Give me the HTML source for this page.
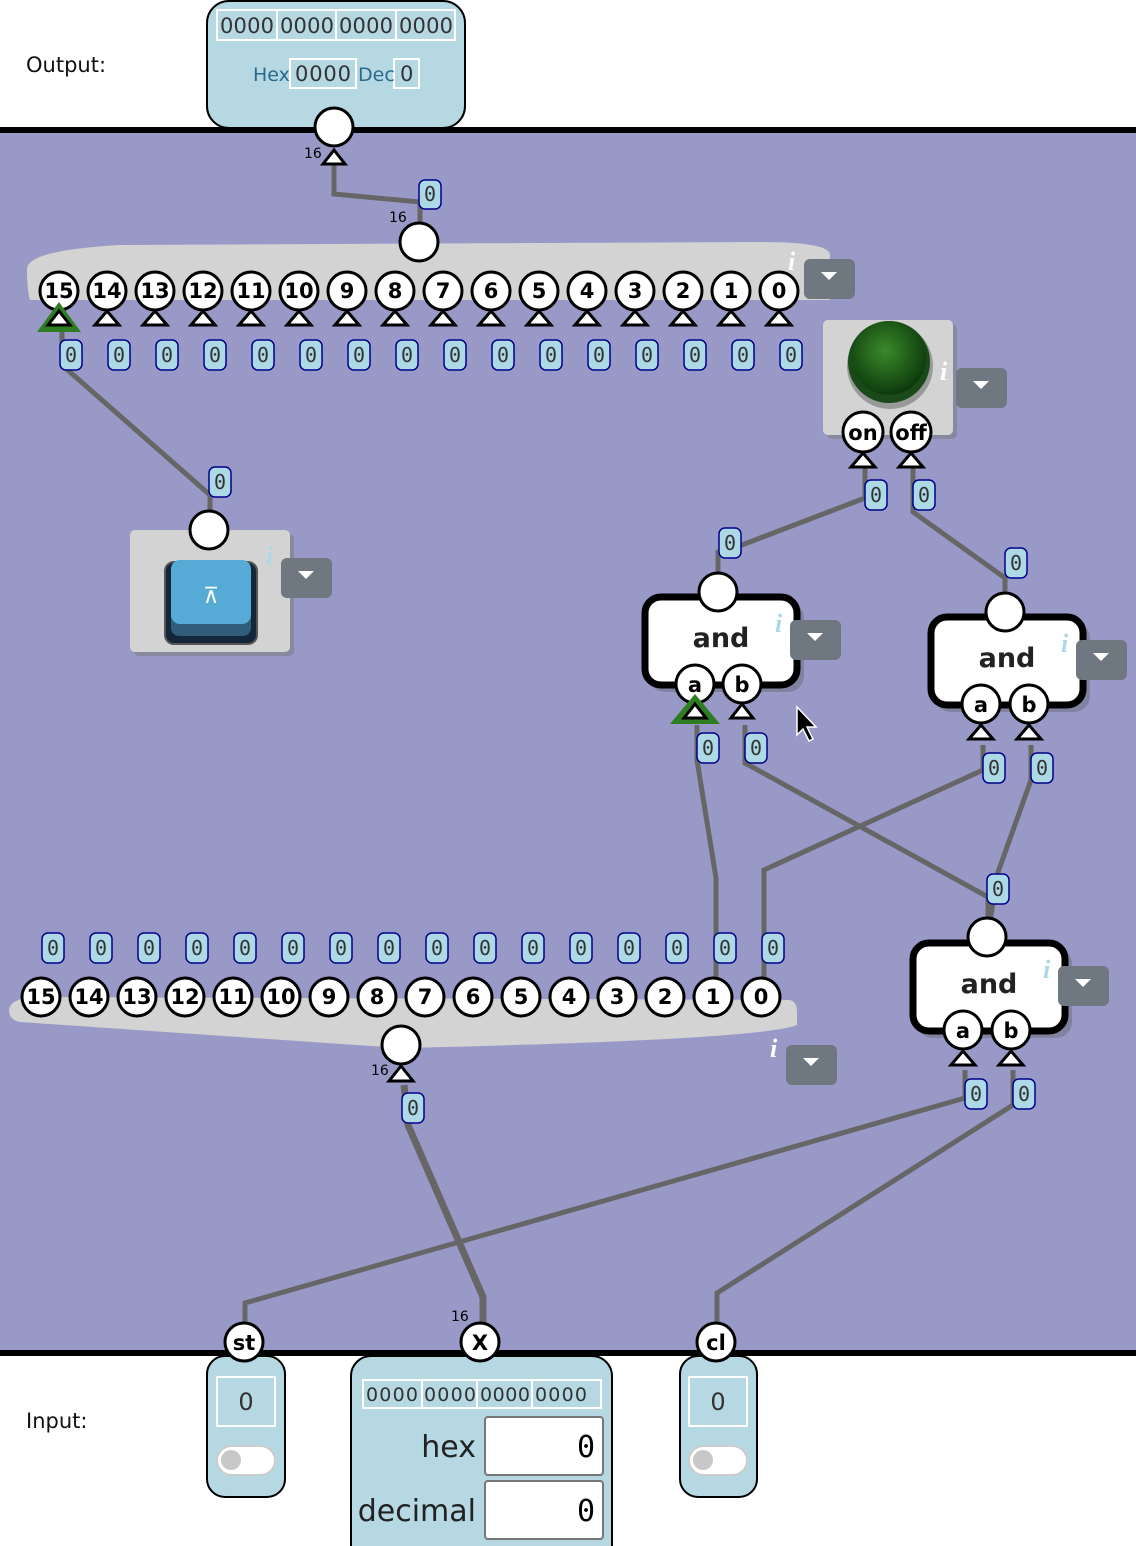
<!DOCTYPE html>
<html><head><meta charset="utf-8"><style>
html,body{margin:0;padding:0;background:#fff;}
svg{display:block}
.lb rect{fill:#add8e6;stroke:#00008b;stroke-width:1.5}
.lb text{font-family:"DejaVu Sans Mono","Liberation Mono",monospace;font-size:20px;fill:#333;text-anchor:middle}
.pin circle{fill:#fff;stroke:#000;stroke-width:3}
.pin text{font-family:"DejaVu Sans","Liberation Sans",sans-serif;font-weight:bold;font-size:21px;text-anchor:middle;fill:#000}
.tri{fill:#fff;stroke:#000;stroke-width:3}
.w{stroke:#666;stroke-width:5;fill:none}
.dd{fill:#6f7780}
.it{font-family:"Liberation Serif",serif;font-style:italic;font-weight:bold;font-size:26px;fill:#add8e6}
.num{font-family:"DejaVu Sans","Liberation Sans",sans-serif;font-size:14px;fill:#000}
</style></head><body>
<svg width="1136" height="1546" viewBox="0 0 1136 1546" xmlns="http://www.w3.org/2000/svg">
<defs>
<radialGradient id="lamp" cx="45%" cy="40%" r="60%"><stop offset="0" stop-color="#3a8a2a"/><stop offset="1" stop-color="#0d3a0d"/></radialGradient>
</defs>
<rect x="-10" y="130" width="1160" height="1223" fill="#9999c8" stroke="#000" stroke-width="6"/>
<text x="26" y="72" font-family="DejaVu Sans,Liberation Sans,sans-serif" font-size="21" fill="#111">Output:</text>
<text x="26" y="1428" font-family="DejaVu Sans,Liberation Sans,sans-serif" font-size="21" fill="#111">Input:</text>

<!-- output box -->
<rect x="207" y="1" width="258" height="127" rx="22" fill="#b5d8e3" stroke="#000" stroke-width="2"/>
<g fill="none" stroke="#fff" stroke-width="2">
<rect x="217" y="10" width="238" height="30"/><line x1="277" y1="10" x2="277" y2="40"/><line x1="336" y1="10" x2="336" y2="40"/><line x1="396" y1="10" x2="396" y2="40"/>
<rect x="290" y="59" width="66" height="29"/><rect x="394" y="59" width="25" height="29"/>
</g>
<g font-family="DejaVu Sans,Liberation Sans,sans-serif" font-size="21" fill="#333">
<text x="220" y="33" textLength="54" lengthAdjust="spacing">0000</text><text x="280" y="33" textLength="54" lengthAdjust="spacing">0000</text><text x="339" y="33" textLength="54" lengthAdjust="spacing">0000</text><text x="399" y="33" textLength="54" lengthAdjust="spacing">0000</text>
<text x="295" y="81" textLength="56" lengthAdjust="spacing">0000</text><text x="400" y="81">0</text></g>
<text x="253" y="81" font-family="DejaVu Sans,Liberation Sans,sans-serif" font-size="19" fill="#2a6a8a">Hex</text>
<text x="358" y="81" font-family="DejaVu Sans,Liberation Sans,sans-serif" font-size="19" fill="#2a6a8a">Dec</text>

<!-- wires -->
<polyline class="w" points="334,165 334,194 420,202 420,228"/>
<polyline class="w" points="62,330 62,365 210,495 210,515"/>
<polyline class="w" points="865,465 865,498 742,545 718,552 718,578"/>
<polyline class="w" points="913,465 913,512 1005,578 1005,598"/>
<polyline class="w" points="697,725 697,760 716,878 716,980"/>
<polyline class="w" points="745,725 745,763 988,897 988,922"/>
<polyline class="w" points="983,745 983,770 764,870 764,980"/>
<polyline class="w" points="1031,745 1031,780 997,875 990,922"/>
<polyline class="w" points="965,1070 965,1098 245,1303 245,1325"/>
<polyline class="w" points="1013,1070 1013,1105 717,1293 717,1325"/>
<polyline class="w" style="stroke-width:7" points="404,1085 408,1125 483,1297 483,1325"/>

<g class="pin"><circle cx="334" cy="127" r="19"/></g>
<polygon class="tri" points="323,164 334,150 345,164"/>
<text class="num" x="304" y="158">16</text>
<g class="lb"><rect x="419" y="180" width="22" height="29" rx="6"/><text x="430" y="201">0</text></g>

<!-- top bus -->
<path d="M27,268 Q30,250 120,245 L760,242 Q830,242 830,255 L830,300 L30,300 Q27,290 27,268 Z" fill="#d3d3d3"/>
<g class="pin"><circle cx="419" cy="242" r="19"/></g>
<text class="num" x="389" y="222">16</text>
<text class="it" x="788" y="270" style="fill:#fff">i</text>
<rect class="dd" x="804" y="259" width="51" height="40" rx="6"/><polygon points="821,272 837,272 829,280" fill="#fff"/>
<g class="pin">
<circle cx="59" cy="291" r="19"/><text x="59" y="298">15</text>
<circle cx="107" cy="291" r="19"/><text x="107" y="298">14</text>
<circle cx="155" cy="291" r="19"/><text x="155" y="298">13</text>
<circle cx="203" cy="291" r="19"/><text x="203" y="298">12</text>
<circle cx="251" cy="291" r="19"/><text x="251" y="298">11</text>
<circle cx="299" cy="291" r="19"/><text x="299" y="298">10</text>
<circle cx="347" cy="291" r="19"/><text x="347" y="298">9</text>
<circle cx="395" cy="291" r="19"/><text x="395" y="298">8</text>
<circle cx="443" cy="291" r="19"/><text x="443" y="298">7</text>
<circle cx="491" cy="291" r="19"/><text x="491" y="298">6</text>
<circle cx="539" cy="291" r="19"/><text x="539" y="298">5</text>
<circle cx="587" cy="291" r="19"/><text x="587" y="298">4</text>
<circle cx="635" cy="291" r="19"/><text x="635" y="298">3</text>
<circle cx="683" cy="291" r="19"/><text x="683" y="298">2</text>
<circle cx="731" cy="291" r="19"/><text x="731" y="298">1</text>
<circle cx="779" cy="291" r="19"/><text x="779" y="298">0</text>
</g>
<polygon points="37,332 59,302 81,332" fill="#2e7d22"/>
<g class="tri">
<polygon points="48,325 59,311 70,325"/>
<polygon points="95,325 107,311 119,325"/><polygon points="143,325 155,311 167,325"/><polygon points="191,325 203,311 215,325"/><polygon points="239,325 251,311 263,325"/><polygon points="287,325 299,311 311,325"/><polygon points="335,325 347,311 359,325"/><polygon points="383,325 395,311 407,325"/><polygon points="431,325 443,311 455,325"/><polygon points="479,325 491,311 503,325"/><polygon points="527,325 539,311 551,325"/><polygon points="575,325 587,311 599,325"/><polygon points="623,325 635,311 647,325"/><polygon points="671,325 683,311 695,325"/><polygon points="719,325 731,311 743,325"/><polygon points="767,325 779,311 791,325"/>
</g>
<g class="lb">
<rect x="60" y="340" width="22" height="30" rx="6"/><text x="71" y="362">0</text>
<rect x="108" y="340" width="22" height="30" rx="6"/><text x="119" y="362">0</text>
<rect x="156" y="340" width="22" height="30" rx="6"/><text x="167" y="362">0</text>
<rect x="204" y="340" width="22" height="30" rx="6"/><text x="215" y="362">0</text>
<rect x="252" y="340" width="22" height="30" rx="6"/><text x="263" y="362">0</text>
<rect x="300" y="340" width="22" height="30" rx="6"/><text x="311" y="362">0</text>
<rect x="348" y="340" width="22" height="30" rx="6"/><text x="359" y="362">0</text>
<rect x="396" y="340" width="22" height="30" rx="6"/><text x="407" y="362">0</text>
<rect x="444" y="340" width="22" height="30" rx="6"/><text x="455" y="362">0</text>
<rect x="492" y="340" width="22" height="30" rx="6"/><text x="503" y="362">0</text>
<rect x="540" y="340" width="22" height="30" rx="6"/><text x="551" y="362">0</text>
<rect x="588" y="340" width="22" height="30" rx="6"/><text x="599" y="362">0</text>
<rect x="636" y="340" width="22" height="30" rx="6"/><text x="647" y="362">0</text>
<rect x="684" y="340" width="22" height="30" rx="6"/><text x="695" y="362">0</text>
<rect x="732" y="340" width="22" height="30" rx="6"/><text x="743" y="362">0</text>
<rect x="780" y="340" width="22" height="30" rx="6"/><text x="791" y="362">0</text>
<rect x="209" y="467" width="22" height="30" rx="6"/><text x="220" y="489">0</text>
</g>

<!-- button -->
<rect x="134" y="534" width="160" height="122" rx="5" fill="#777" opacity="0.5"/>
<rect x="130" y="530" width="160" height="122" rx="5" fill="#d3d3d3"/>
<rect x="165" y="562" width="92" height="82" rx="9" fill="#14263a" stroke="#555" stroke-width="2"/>
<rect x="171" y="562" width="80" height="74" rx="8" fill="#2f5d7a"/>
<rect x="171" y="560" width="80" height="64" rx="9" fill="#56aad6"/>
<text x="211" y="603" font-family="DejaVu Sans,sans-serif" font-size="22" fill="#fff" text-anchor="middle">⊼</text>
<text class="it" x="266" y="565">i</text>
<rect class="dd" x="281" y="558" width="51" height="40" rx="6"/><polygon points="298,571 314,571 306,579" fill="#fff"/>
<g class="pin"><circle cx="209" cy="530" r="19"/></g>

<!-- lamp -->
<rect x="827" y="324" width="130" height="115" rx="5" fill="#777" opacity="0.5"/>
<rect x="823" y="320" width="130" height="115" rx="5" fill="#d3d3d3"/>
<circle cx="890" cy="366" r="43" fill="#999"/>
<circle cx="889" cy="362" r="41" fill="#1a4a1a"/>
<circle cx="889" cy="358" r="37" fill="url(#lamp)"/>
<text class="it" x="940" y="380" style="fill:#fff">i</text>
<rect class="dd" x="956" y="368" width="51" height="40" rx="6"/><polygon points="973,381 989,381 981,389" fill="#fff"/>
<g class="pin"><circle cx="863" cy="432" r="20"/><text x="863" y="440">on</text><circle cx="911" cy="432" r="20"/><text x="911" y="440">off</text></g>
<g class="tri"><polygon points="851,467 863,453 875,467"/><polygon points="899,467 911,453 923,467"/></g>
<g class="lb"><rect x="865" y="480" width="22" height="30" rx="6"/><text x="876" y="502">0</text>
<rect x="913" y="480" width="22" height="30" rx="6"/><text x="924" y="502">0</text>
<rect x="719" y="528" width="22" height="30" rx="6"/><text x="730" y="550">0</text>
<rect x="1005" y="548" width="22" height="30" rx="6"/><text x="1016" y="570">0</text></g>

<!-- and gates -->
<g font-family="DejaVu Sans,Liberation Sans,sans-serif">
<rect x="649" y="602" width="155" height="90" rx="16" fill="#555" opacity="0.35"/>
<rect x="645" y="597" width="152" height="88" rx="16" fill="#fff" stroke="#000" stroke-width="7"/>
<text x="721" y="647" font-size="27" font-weight="bold" fill="#222" text-anchor="middle">and</text>
<text class="it" x="775" y="632">i</text>
<rect class="dd" x="790" y="620" width="51" height="40" rx="6"/><polygon points="807,633 823,633 815,641" fill="#fff"/>
<g class="pin"><circle cx="718" cy="592" r="19"/><circle cx="695" cy="684" r="19"/><text x="695" y="692">a</text><circle cx="742" cy="684" r="19"/><text x="742" y="692">b</text></g>
<polygon points="670,724 695,694 720,724" fill="#2e7d22"/>
<g class="tri"><polygon points="684,718 695,704 706,718"/><polygon points="731,718 742,704 753,718"/></g>

<rect x="935" y="622" width="155" height="90" rx="16" fill="#555" opacity="0.35"/>
<rect x="931" y="617" width="152" height="88" rx="16" fill="#fff" stroke="#000" stroke-width="7"/>
<text x="1007" y="667" font-size="27" font-weight="bold" fill="#222" text-anchor="middle">and</text>
<text class="it" x="1061" y="652">i</text>
<rect class="dd" x="1076" y="640" width="51" height="40" rx="6"/><polygon points="1093,653 1109,653 1101,661" fill="#fff"/>
<g class="pin"><circle cx="1005" cy="612" r="19"/><circle cx="981" cy="704" r="19"/><text x="981" y="712">a</text><circle cx="1029" cy="704" r="19"/><text x="1029" y="712">b</text></g>
<g class="tri"><polygon points="969,739 981,725 993,739"/><polygon points="1017,739 1029,725 1041,739"/></g>

<rect x="917" y="948" width="155" height="90" rx="16" fill="#555" opacity="0.35"/>
<rect x="913" y="943" width="152" height="88" rx="16" fill="#fff" stroke="#000" stroke-width="7"/>
<text x="989" y="993" font-size="27" font-weight="bold" fill="#222" text-anchor="middle">and</text>
<text class="it" x="1043" y="978">i</text>
<rect class="dd" x="1058" y="966" width="51" height="40" rx="6"/><polygon points="1075,979 1091,979 1083,987" fill="#fff"/>
<g class="pin"><circle cx="987" cy="937" r="19"/><circle cx="963" cy="1030" r="19"/><text x="963" y="1038">a</text><circle cx="1011" cy="1030" r="19"/><text x="1011" y="1038">b</text></g>
<g class="tri"><polygon points="951,1065 963,1051 975,1065"/><polygon points="999,1065 1011,1051 1023,1065"/></g>
</g>
<g class="lb">
<rect x="697" y="733" width="22" height="30" rx="6"/><text x="708" y="755">0</text>
<rect x="745" y="733" width="22" height="30" rx="6"/><text x="756" y="755">0</text>
<rect x="983" y="753" width="22" height="30" rx="6"/><text x="994" y="775">0</text>
<rect x="1031" y="753" width="22" height="30" rx="6"/><text x="1042" y="775">0</text>
<rect x="987" y="874" width="22" height="30" rx="6"/><text x="998" y="896">0</text>
<rect x="965" y="1079" width="22" height="30" rx="6"/><text x="976" y="1101">0</text>
<rect x="1013" y="1079" width="22" height="30" rx="6"/><text x="1024" y="1101">0</text>
<rect x="402" y="1093" width="22" height="30" rx="6"/><text x="413" y="1115">0</text>
</g>

<polygon points="797,707 797,735 803,729 809,741 813,739 807,727 816,727" fill="#000" stroke="#fff" stroke-width="1.5"/>

<!-- bottom bus -->
<path d="M9,1010 Q10,1000 30,997 L790,1000 Q797,1002 797,1012 L797,1025 Q760,1040 400,1048 L20,1022 Q9,1020 9,1010 Z" fill="#d3d3d3"/>
<text class="it" x="770" y="1057" style="fill:#fff">i</text>
<rect class="dd" x="786" y="1045" width="51" height="40" rx="6"/><polygon points="803,1058 819,1058 811,1066" fill="#fff"/>
<g class="pin">
<circle cx="41" cy="997" r="19"/><text x="41" y="1004">15</text>
<circle cx="89" cy="997" r="19"/><text x="89" y="1004">14</text>
<circle cx="137" cy="997" r="19"/><text x="137" y="1004">13</text>
<circle cx="185" cy="997" r="19"/><text x="185" y="1004">12</text>
<circle cx="233" cy="997" r="19"/><text x="233" y="1004">11</text>
<circle cx="281" cy="997" r="19"/><text x="281" y="1004">10</text>
<circle cx="329" cy="997" r="19"/><text x="329" y="1004">9</text>
<circle cx="377" cy="997" r="19"/><text x="377" y="1004">8</text>
<circle cx="425" cy="997" r="19"/><text x="425" y="1004">7</text>
<circle cx="473" cy="997" r="19"/><text x="473" y="1004">6</text>
<circle cx="521" cy="997" r="19"/><text x="521" y="1004">5</text>
<circle cx="569" cy="997" r="19"/><text x="569" y="1004">4</text>
<circle cx="617" cy="997" r="19"/><text x="617" y="1004">3</text>
<circle cx="665" cy="997" r="19"/><text x="665" y="1004">2</text>
<circle cx="713" cy="997" r="19"/><text x="713" y="1004">1</text>
<circle cx="761" cy="997" r="19"/><text x="761" y="1004">0</text>
<circle cx="401" cy="1045" r="19"/>
</g>
<polygon class="tri" points="389,1081 401,1066 413,1081"/>
<text class="num" x="371" y="1075">16</text>
<g class="lb">
<rect x="42" y="933" width="22" height="30" rx="6"/><text x="53" y="955">0</text>
<rect x="90" y="933" width="22" height="30" rx="6"/><text x="101" y="955">0</text>
<rect x="138" y="933" width="22" height="30" rx="6"/><text x="149" y="955">0</text>
<rect x="186" y="933" width="22" height="30" rx="6"/><text x="197" y="955">0</text>
<rect x="234" y="933" width="22" height="30" rx="6"/><text x="245" y="955">0</text>
<rect x="282" y="933" width="22" height="30" rx="6"/><text x="293" y="955">0</text>
<rect x="330" y="933" width="22" height="30" rx="6"/><text x="341" y="955">0</text>
<rect x="378" y="933" width="22" height="30" rx="6"/><text x="389" y="955">0</text>
<rect x="426" y="933" width="22" height="30" rx="6"/><text x="437" y="955">0</text>
<rect x="474" y="933" width="22" height="30" rx="6"/><text x="485" y="955">0</text>
<rect x="522" y="933" width="22" height="30" rx="6"/><text x="533" y="955">0</text>
<rect x="570" y="933" width="22" height="30" rx="6"/><text x="581" y="955">0</text>
<rect x="618" y="933" width="22" height="30" rx="6"/><text x="629" y="955">0</text>
<rect x="666" y="933" width="22" height="30" rx="6"/><text x="677" y="955">0</text>
<rect x="714" y="933" width="22" height="30" rx="6"/><text x="725" y="955">0</text>
<rect x="762" y="933" width="22" height="30" rx="6"/><text x="773" y="955">0</text>
</g>

<!-- inputs -->
<rect x="207" y="1356" width="78" height="141" rx="18" fill="#b5d8e3" stroke="#000" stroke-width="2"/>
<rect x="217" y="1377" width="58" height="49" fill="none" stroke="#fff" stroke-width="2"/>
<text x="246" y="1410" font-family="DejaVu Sans,sans-serif" font-size="24" fill="#333" text-anchor="middle">0</text>
<rect x="217" y="1446" width="58" height="29" rx="14.5" fill="#fff" stroke="#ccc" stroke-width="2"/>
<circle cx="231" cy="1460" r="10" fill="#c8c8c8"/>

<rect x="680" y="1356" width="77" height="141" rx="18" fill="#b5d8e3" stroke="#000" stroke-width="2"/>
<rect x="689" y="1377" width="58" height="49" fill="none" stroke="#fff" stroke-width="2"/>
<text x="718" y="1410" font-family="DejaVu Sans,sans-serif" font-size="24" fill="#333" text-anchor="middle">0</text>
<rect x="689" y="1446" width="58" height="29" rx="14.5" fill="#fff" stroke="#ccc" stroke-width="2"/>
<circle cx="703" cy="1460" r="10" fill="#c8c8c8"/>

<rect x="351" y="1356" width="261" height="210" rx="20" fill="#b5d8e3" stroke="#000" stroke-width="2"/>
<g fill="none" stroke="#fff" stroke-width="2">
<rect x="363" y="1380" width="238" height="28"/><line x1="422" y1="1380" x2="422" y2="1408"/><line x1="477" y1="1380" x2="477" y2="1408"/><line x1="532" y1="1380" x2="532" y2="1408"/></g>
<g font-family="DejaVu Sans,sans-serif" font-size="19" fill="#333">
<text x="366" y="1401" textLength="52" lengthAdjust="spacing">0000</text><text x="424" y="1401" textLength="52" lengthAdjust="spacing">0000</text><text x="480" y="1401" textLength="50" lengthAdjust="spacing">0000</text><text x="535" y="1401" textLength="52" lengthAdjust="spacing">0000</text></g>
<rect x="485" y="1417" width="118" height="58" rx="3" fill="#fff" stroke="#777" stroke-width="2"/>
<rect x="485" y="1481" width="118" height="58" rx="3" fill="#fff" stroke="#777" stroke-width="2"/>
<text x="476" y="1457" font-family="DejaVu Sans,sans-serif" font-size="30" fill="#222" text-anchor="end">hex</text>
<text x="476" y="1521" font-family="DejaVu Sans,sans-serif" font-size="30" fill="#222" text-anchor="end">decimal</text>
<text x="595" y="1457" font-family="DejaVu Sans Mono,monospace" font-size="30" fill="#000" text-anchor="end">0</text>
<text x="595" y="1521" font-family="DejaVu Sans Mono,monospace" font-size="30" fill="#000" text-anchor="end">0</text>

<g class="pin">
<circle cx="244" cy="1342" r="19"/><text x="244" y="1350">st</text>
<circle cx="480" cy="1342" r="19"/><text x="480" y="1350">X</text>
<circle cx="716" cy="1342" r="19"/><text x="716" y="1350">cl</text>
</g>
<text class="num" x="451" y="1321">16</text>
</svg>
</body></html>
